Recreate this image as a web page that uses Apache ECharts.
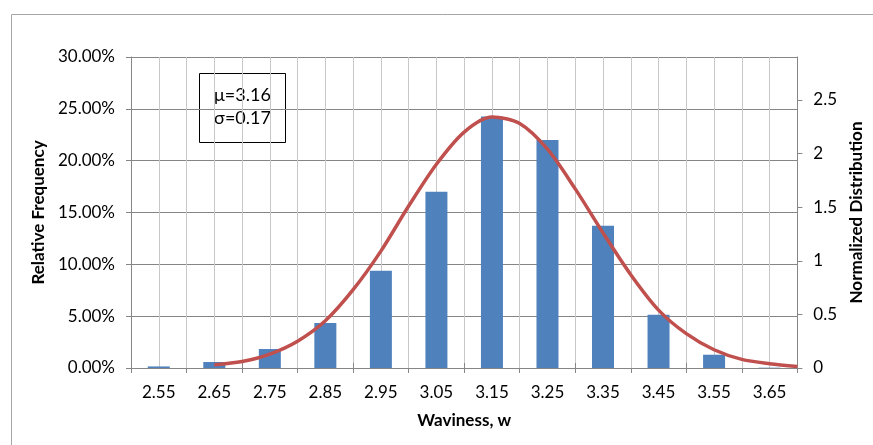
<!DOCTYPE html>
<html>
<head>
<meta charset="utf-8">
<title>Waviness distribution</title>
<script src="https://cdn.jsdelivr.net/npm/echarts@6/dist/echarts.min.js"></script>
<style>
  html, body { margin: 0; padding: 0; background: #ffffff; }
  #chart { width: 873px; height: 445px; }
</style>
</head>
<body>
<div id="chart"></div>
<script>
// Waviness bins (category centres)
const categories = ['2.55', '2.65', '2.75', '2.85', '2.95', '3.05', '3.15', '3.25', '3.35', '3.45', '3.55', '3.65'];
// Relative frequency of each bin (fraction)
const relativeFrequency = [0.0015, 0.0058, 0.0183, 0.0434, 0.0938, 0.1700, 0.2426, 0.2200, 0.1372, 0.0514, 0.0128, 0.0003];
// Fitted normal curve: waviness values and normalized density
const curveX = [2.65, 2.70, 2.75, 2.80, 2.85, 2.90, 2.95, 3.00, 3.05, 3.10, 3.15, 3.20, 3.25, 3.30, 3.35, 3.40, 3.45, 3.50, 3.55, 3.60, 3.65, 3.70];
const curveY = [0.03, 0.06, 0.13, 0.25, 0.44, 0.73, 1.09, 1.51, 1.90, 2.20, 2.34, 2.28, 2.04, 1.67, 1.26, 0.87, 0.54, 0.32, 0.17, 0.08, 0.04, 0.015];
// Right-axis tick labels
const densityTicks = [0, 0.5, 1, 1.5, 2, 2.5];
const statsLines = ['μ=3.16', 'σ=0.17'];

const FONT = 'Lato, "Open Sans", "Noto Sans", sans-serif';
const AXIS_GREY = '#868686';
const MINOR_GREY = '#c8c8c8';
const TICK_SIZE = 17;
const TITLE_SIZE = 17;

const chart = echarts.init(document.getElementById('chart'), null, { renderer: 'canvas' });

const option = {
  animation: false,
  backgroundColor: '#ffffff',
  textStyle: { fontFamily: FONT },
  grid: { left: 131, right: 75, top: 57, bottom: 77, containLabel: false },
  xAxis: [
    {
      type: 'category',
      position: 'bottom',
      data: categories,
      boundaryGap: true,
      axisLine: { show: true, lineStyle: { color: AXIS_GREY, width: 1 } },
      axisTick: { show: true, length: 5, interval: 0, lineStyle: { color: AXIS_GREY } },
      axisLabel: { color: '#000', fontSize: TICK_SIZE, margin: 16, fontFamily: FONT, interval: 0 },
      splitLine: { show: false },
      name: 'Waviness, w',
      nameLocation: 'middle',
      nameGap: 44,
      nameTextStyle: { color: '#000', fontSize: TITLE_SIZE, fontWeight: 'bold', fontFamily: FONT }
    },
    {
      type: 'value',
      position: 'top',
      min: 2.5,
      max: 3.7,
      interval: 0.2,
      axisLine: { show: true, lineStyle: { color: AXIS_GREY, width: 1 } },
      axisTick: { show: true, length: 5, lineStyle: { color: AXIS_GREY } },
      axisLabel: { show: false },
      splitLine: { show: true, lineStyle: { color: MINOR_GREY, width: 1 } },
      minorTick: { show: false, splitNumber: 4 },
      minorSplitLine: { show: true, lineStyle: { color: MINOR_GREY, width: 1 } }
    }
  ],
  yAxis: [
    {
      type: 'value',
      position: 'left',
      min: 0,
      max: 0.30,
      interval: 0.05,
      axisLine: { show: true, lineStyle: { color: AXIS_GREY, width: 1 } },
      axisTick: { show: true, length: 5, lineStyle: { color: AXIS_GREY } },
      axisLabel: {
        color: '#000', fontSize: TICK_SIZE, margin: 16, fontFamily: FONT,
        formatter: v => (v * 100).toFixed(2) + '%'
      },
      splitLine: { show: true, lineStyle: { color: AXIS_GREY, width: 1 } },
      name: 'Relative Frequency',
      nameLocation: 'middle',
      nameRotate: 90,
      nameGap: 79,
      nameTextStyle: { color: '#000', fontSize: TITLE_SIZE, fontWeight: 'bold', fontFamily: FONT }
    },
    {
      type: 'value',
      position: 'right',
      min: 0,
      max: 2.9,
      interval: 0.5,
      axisLine: { show: true, lineStyle: { color: AXIS_GREY, width: 1 } },
      axisTick: { show: true, length: 5, customValues: densityTicks, lineStyle: { color: AXIS_GREY } },
      axisLabel: { color: '#000', fontSize: TICK_SIZE, margin: 16, fontFamily: FONT, customValues: densityTicks },
      splitLine: { show: false },
      name: 'Normalized Distribution',
      nameLocation: 'middle',
      nameRotate: 90,
      nameGap: 50,
      nameTextStyle: { color: '#000', fontSize: TITLE_SIZE, fontWeight: 'bold', fontFamily: FONT }
    }
  ],
  series: [
    {
      name: 'Relative Frequency',
      type: 'bar',
      xAxisIndex: 0,
      yAxisIndex: 0,
      data: relativeFrequency,
      barWidth: 22,
      itemStyle: { color: '#4f81bd' },
      z: 2
    },
    {
      name: 'Normalized Distribution',
      type: 'line',
      xAxisIndex: 1,
      yAxisIndex: 1,
      data: curveX.map((x, i) => [x, curveY[i]]),
      smooth: 0.3,
      symbol: 'none',
      lineStyle: { color: '#c0504d', width: 3.5 },
      z: 3
    }
  ],
  graphic: [
    {
      type: 'rect',
      left: 9, top: 12,
      shape: { width: 880, height: 450 },
      style: { fill: 'none', stroke: '#a6a6a6', lineWidth: 1 },
      silent: true,
      z: 0
    },
    {
      type: 'group',
      left: 199, top: 73,
      z: 10,
      children: [
        {
          type: 'rect',
          shape: { x: 0, y: 0, width: 86, height: 69 },
          style: { fill: '#ffffff', stroke: '#000000', lineWidth: 1 }
        },
        {
          type: 'text',
          x: 43, y: 22,
          style: { text: statsLines[0], fill: '#000', font: '18px ' + FONT, align: 'center', verticalAlign: 'middle' }
        },
        {
          type: 'text',
          x: 43, y: 45,
          style: { text: statsLines[1], fill: '#000', font: '18px ' + FONT, align: 'center', verticalAlign: 'middle' }
        }
      ]
    }
  ]
};

chart.setOption(option);
</script>
</body>
</html>
